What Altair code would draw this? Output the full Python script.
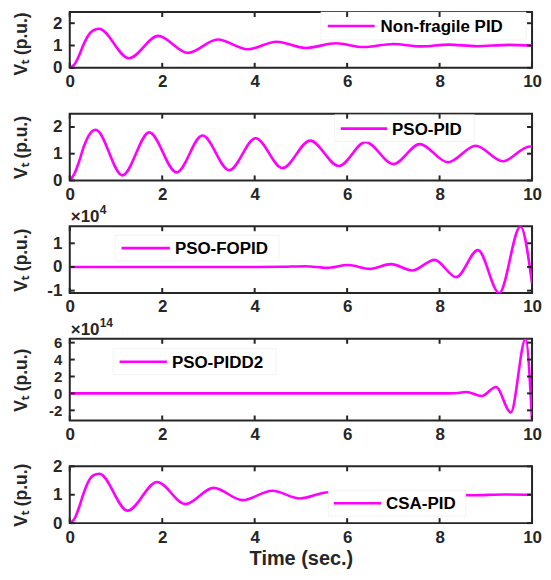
import altair as alt
import pandas as pd

# ---- data (time in sec., V_t in p.u.) ----
t_nf = [0, 0.1, 0.2, 0.3, 0.4, 0.5, 0.63, 1.28, 1.91, 2.56, 3.2, 3.85, 4.47, 5.1, 5.76, 6.35, 7.0, 7.6, 8.2, 8.8, 9.5, 10]
v_nf = [0, 0.15, 0.55, 1.05, 1.45, 1.67, 1.75, 0.43, 1.43, 0.67, 1.27, 0.83, 1.17, 0.89, 1.10, 0.93, 1.07, 0.96, 1.04, 0.97, 1.03, 1.0]

t_pso = [0, 0.1, 0.2, 0.3, 0.4, 0.56, 1.14, 1.72, 2.31, 2.87, 3.45, 4.02, 4.6, 5.2, 5.82, 6.4, 7.0, 7.57, 8.18, 8.78, 9.37, 9.95, 10]
v_pso = [0, 0.25, 0.7, 1.25, 1.65, 1.9, 0.19, 1.80, 0.30, 1.68, 0.38, 1.58, 0.46, 1.49, 0.54, 1.44, 0.61, 1.36, 0.68, 1.30, 0.72, 1.27, 1.26]

# PSO-FOPID values in units of 1e4 p.u.
t_fo = [0, 1, 2, 3, 4, 4.6, 5.1, 5.56, 6.02, 6.49, 6.95, 7.41, 7.89, 8.36, 8.83, 9.29, 9.75, 10]
v_fo = [0, 0, 0, 0, 0, 0.01, 0.03, -0.04, 0.08, -0.08, 0.12, -0.15, 0.30, -0.43, 0.71, -1.10, 1.71, -0.69]

# PSO-PIDD2 values in units of 1e14 p.u.
t_dd = [0, 2, 4, 6, 8, 8.3, 8.58, 8.91, 9.22, 9.54, 9.86, 10]
v_dd = [0, 0, 0, 0, 0, 0.02, 0.16, -0.31, 0.75, -2.24, 6.43, -3.2]

t_csa = [0, 0.1, 0.2, 0.3, 0.4, 0.5, 0.64, 1.25, 1.89, 2.5, 3.11, 3.74, 4.38, 4.98, 5.6, 6.2, 6.85, 7.45, 8.1, 8.7, 9.4, 10]
v_csa = [0, 0.15, 0.55, 1.05, 1.45, 1.67, 1.74, 0.44, 1.45, 0.67, 1.24, 0.81, 1.14, 0.87, 1.09, 0.93, 1.06, 0.96, 1.03, 0.98, 1.01, 1.0]

names = ["Non-fragile PID", "PSO-PID", "PSO-FOPID", "PSO-PIDD2", "CSA-PID"]
times = [t_nf, t_pso, t_fo, t_dd, t_csa]
values = [v_nf, v_pso, v_fo, v_dd, v_csa]
x_ticks = [0, 2, 4, 6, 8, 10]
y_ticks = [[0, 1, 2], [0, 1, 2], [-1, 0, 1], [-2, 0, 2, 4, 6], [0, 1, 2]]
y_domains = [[0, 2.5], [0, 2.5], [-1.1, 1.72], [-3.2, 6.45], [0, 2]]
exponents = ["", "", "4", "14", ""]
y_title = "Vₜ (p.u.)"
x_title = "Time (sec.)"

# ---- layout / style (pixels, relative to each plot area) ----
W = 464
heights = [56, 67, 67, 82, 57]
y_label_size = [17, 17, 17, 15, 17]
title_shift = [3.5, 0, 0, 0, 0]
# legend: box left, box right, box top, box bottom, sample x0, sample x1, row y, label x
legend_box = [
    (252, 458, 0, 28, 259, 306, 14, 312),
    (266, 406, 1, 28, 272, 318.5, 15, 323.5),
    (45.5, 210, 9, 35, 52, 100.5, 22, 105.5),
    (43.5, 207, 10, 36, 50, 97.5, 23, 102.5),
    (259.5, 397.5, 24, 50, 265, 312.5, 37, 317.5),
]
MAG = "#ff00ff"
INK = "#262626"
FONT = "Liberation Sans"
LABEL = "'' + datum.value"


def panel(i):
    H = heights[i]
    df = pd.DataFrame({"t": times[i], "v": values[i]})
    xs = alt.Scale(domain=[0, 10], nice=False, zero=False)
    ys = alt.Scale(domain=y_domains[i], nice=False, zero=False)
    last = i == len(names) - 1
    xaxis = alt.Axis(values=x_ticks, ticks=False, domain=False, grid=False, labelExpr=LABEL,
                     labelPadding=6, labelFlush=False, labelOverlap=False,
                     title=x_title if last else None, titleFontSize=20, titlePadding=4)
    yaxis = alt.Axis(values=y_ticks[i], ticks=False, domain=False, grid=False, labelExpr=LABEL,
                     labelPadding=8, labelFlush=False, labelOverlap=False,
                     labelFontSize=y_label_size[i],
                     title=y_title, titleAngle=270, titleX=-48.5, titleY=H / 2 + title_shift[i],
                     titleAlign="center", titleBaseline="middle", titleFontSize=17.5)
    X = alt.X("t:Q", scale=xs, axis=xaxis)
    Y = alt.Y("v:Q", scale=ys, axis=yaxis)
    line = alt.Chart(df).mark_line(interpolate="monotone", strokeWidth=2.6, clip=True,
                                   color=MAG).encode(x=X, y=Y)

    bx0, bx1, by0, by1, sx0, sx1, sy, lx = legend_box[i]
    leg = alt.Chart(pd.DataFrame({"name": [names[i]]}))
    box = leg.mark_rect(fill="white", stroke="#e6e6e6", strokeWidth=0.5).encode(
        x=alt.value(bx0), x2=alt.value(bx1), y=alt.value(by0), y2=alt.value(by1))
    sample = leg.mark_rule(color=MAG, strokeWidth=2.6).encode(
        x=alt.value(sx0), x2=alt.value(sx1), y=alt.value(sy))
    label = leg.mark_text(align="left", baseline="middle", font=FONT, fontSize=17,
                          fontWeight="bold", color="black").encode(
        x=alt.value(lx), y=alt.value(sy + 1), text="name:N")

    xt = pd.DataFrame({"t": x_ticks})
    yt = pd.DataFrame({"v": y_ticks[i]})
    rule = dict(color=INK, strokeWidth=2)
    bottom = alt.Chart(xt).mark_rule(**rule).encode(x=X, y=alt.value(H), y2=alt.value(H - 5))
    top = alt.Chart(xt).mark_rule(**rule).encode(x=X, y=alt.value(0), y2=alt.value(5))
    left = alt.Chart(yt).mark_rule(**rule).encode(y=Y, x=alt.value(0), x2=alt.value(5))
    right = alt.Chart(yt).mark_rule(**rule).encode(y=Y, x=alt.value(W - 5), x2=alt.value(W))
    layers = [line, box, sample, label, bottom, top, left, right]
    if exponents[i]:
        base = alt.Chart(pd.DataFrame({"s": ["×10"], "e": [exponents[i]]}))
        layers.append(base.mark_text(align="left", baseline="alphabetic", font=FONT, fontSize=17,
                                     fontWeight="bold", color=INK).encode(
            x=alt.value(1), y=alt.value(-4), text="s:N"))
        layers.append(base.mark_text(align="left", baseline="alphabetic", font=FONT, fontSize=12,
                                     fontWeight="bold", color=INK).encode(
            x=alt.value(30), y=alt.value(-12), text="e:N"))
    return alt.layer(*layers).properties(width=W, height=H)


chart = alt.vconcat(*[panel(i) for i in range(len(names))], spacing=46, bounds="flush").resolve_scale(
    x="independent", y="independent"
).properties(
    padding={"left": 3, "top": 1, "right": 0, "bottom": 0}, background="white"
).configure_view(stroke=INK, strokeWidth=2).configure_axis(
    labelFont=FONT, labelFontSize=17, labelFontWeight="bold", labelColor=INK,
    titleFont=FONT, titleFontWeight="bold", titleColor=INK
)

chart.save("out.html", embed_options={"renderer": "svg", "actions": False})
